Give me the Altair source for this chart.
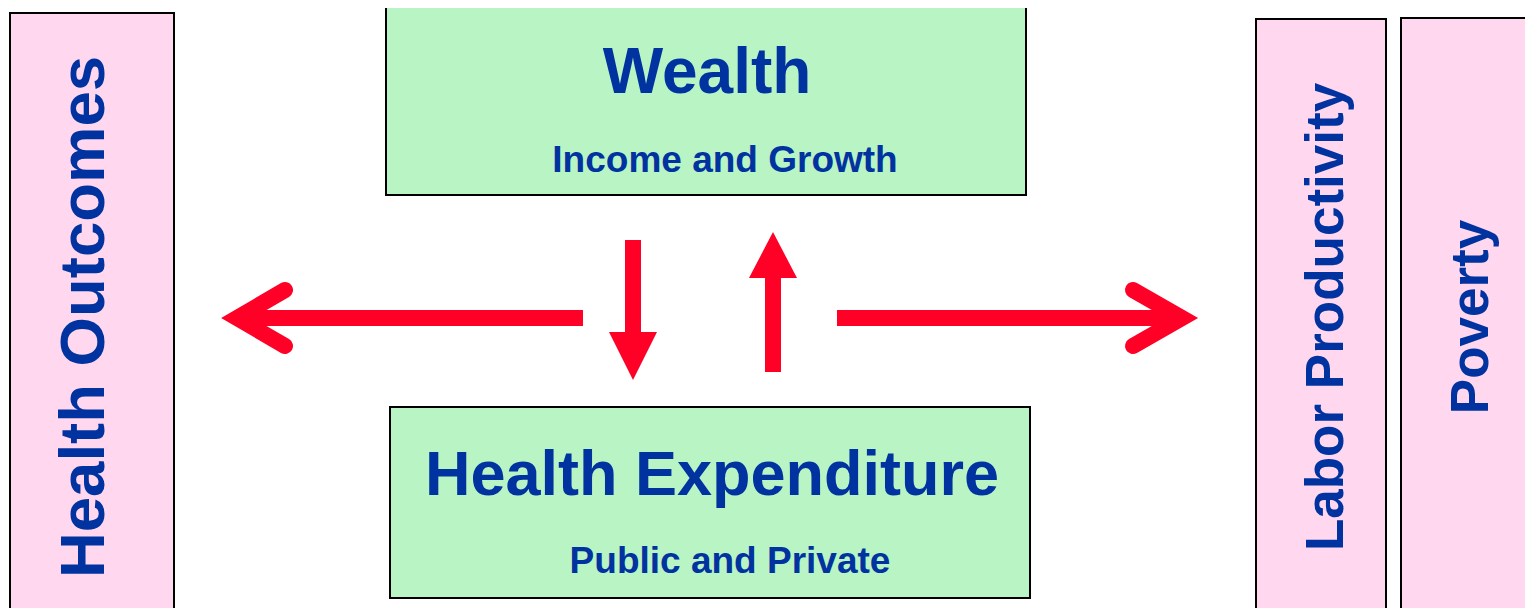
import altair as alt
import pandas as pd

# ---- boxes (diagram coordinates in reference pixels) ----
box_name = ["Health Outcomes", "Wealth", "Health Expenditure", "Labor Productivity", "Poverty"]
box_x0 = [10, 386, 390, 1256, 1401]
box_x1 = [174, 1026, 1030, 1386, 1545]
box_y0 = [13, 5, 407, 19, 18]
box_y1 = [613, 195, 598, 625, 625]
box_fill = ["#FFD8EF", "#B8F4C4", "#B8F4C4", "#FFD8EF", "#FFD8EF"]

# ---- labels ----
lab_text = ["Health Outcomes", "Wealth", "Income and Growth", "Health Expenditure",
            "Public and Private", "Labor Productivity", "Poverty"]
lab_x = [104, 707, 725, 712, 730, 1343, 1488]
lab_y = [317, 93, 172, 495, 573, 317, 317]
lab_size = [63.5, 64, 37, 63, 37, 53, 53]
lab_angle = [270, 0, 0, 0, 0, 270, 270]

# ---- arrow shafts ----
shaft_x0 = [583, 837, 633, 773]
shaft_x1 = [240, 1180, 633, 773]
shaft_y0 = [318, 318, 240, 372]
shaft_y1 = [318, 318, 333, 277]

# ---- open chevron heads (horizontal arrows) ----
chev_id = ["L", "L", "L", "R", "R", "R"]
chev_x = [285, 237, 285, 1133, 1182, 1133]
chev_y = [290, 318, 346, 290, 318, 346]
chev_order = [0, 1, 2, 0, 1, 2]

# ---- filled triangle heads (vertical arrows) ----
tri_id = ["D", "D", "D", "U", "U", "U"]
tri_x = [609, 633, 657, 749, 773, 797]
tri_y = [332, 332, 332, 278, 278, 278]
tri_y2 = [332, 380, 332, 278, 232, 278]

RED = "#FF0026"
BLUE = "#0033A0"

xs = alt.Scale(domain=[8, 1525], nice=False, zero=False)
ys = alt.Scale(domain=[8, 608], nice=False, zero=False, reverse=True)

boxes = pd.DataFrame(dict(name=box_name, x=box_x0, x2=box_x1, y=box_y0, y2=box_y1, fill=box_fill))
labels = pd.DataFrame(dict(text=lab_text, x=lab_x, y=lab_y, fs=lab_size, ang=lab_angle))
shafts = pd.DataFrame(dict(x=shaft_x0, x2=shaft_x1, y=shaft_y0, y2=shaft_y1))
chev = pd.DataFrame(dict(id=chev_id, x=chev_x, y=chev_y, o=chev_order))
tri = pd.DataFrame(dict(id=tri_id, x=tri_x, y=tri_y, y2=tri_y2))

box_layer = alt.Chart(boxes).mark_rect(stroke="black", strokeWidth=2, clip=True).encode(
    x=alt.X("x:Q", scale=xs, axis=None),
    x2="x2:Q",
    y=alt.Y("y:Q", scale=ys, axis=None),
    y2="y2:Q",
    fill=alt.Fill("fill:N", scale=None),
)

text_layer = alt.Chart(labels).mark_text(
    font="Liberation Sans", fontWeight="bold", color=BLUE, align="center", baseline="alphabetic"
).encode(
    x=alt.X("x:Q", scale=xs, axis=None),
    y=alt.Y("y:Q", scale=ys, axis=None),
    text="text:N",
    size=alt.Size("fs:Q", scale=None),
    angle=alt.Angle("ang:Q", scale=None),
)

shaft_layer = alt.Chart(shafts).mark_rule(color=RED, strokeWidth=16, strokeCap="butt").encode(
    x=alt.X("x:Q", scale=xs, axis=None),
    x2="x2:Q",
    y=alt.Y("y:Q", scale=ys, axis=None),
    y2="y2:Q",
)

chev_layer = alt.Chart(chev).mark_line(
    color=RED, strokeWidth=16, strokeCap="round", strokeJoin="miter", strokeMiterLimit=6
).encode(
    x=alt.X("x:Q", scale=xs, axis=None),
    y=alt.Y("y:Q", scale=ys, axis=None),
    detail="id:N",
    order="o:Q",
)

tri_layer = alt.Chart(tri).mark_area(color=RED, orient="vertical", opacity=1).encode(
    x=alt.X("x:Q", scale=xs, axis=None),
    y=alt.Y("y:Q", scale=ys, axis=None),
    y2="y2:Q",
    detail="id:N",
)

chart = alt.layer(box_layer, text_layer, shaft_layer, chev_layer, tri_layer).properties(
    width=1517, height=600, padding=0, autosize=alt.AutoSizeParams(type="none"),
    background="white",
).configure_view(stroke=None)

chart.save("out.html", embed_options={"renderer": "svg", "actions": False})
